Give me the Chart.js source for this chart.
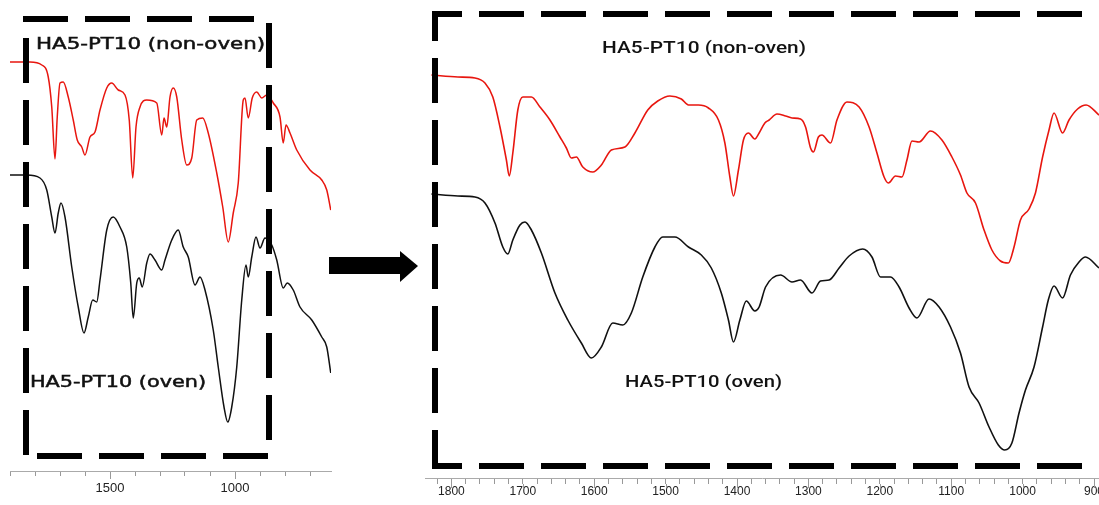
<!DOCTYPE html>
<html>
<head>
<meta charset="utf-8">
<script src="https://cdn.jsdelivr.net/npm/chart.js@4.4.1/dist/chart.umd.min.js"></script>
<style>
  body { margin: 0; background: #fff; width: 1099px; height: 505px; overflow: hidden; position: relative; }
  canvas { position: absolute; top: 0; }
  #leftChart { left: 0; }
  #rightChart { left: 425px; }
</style>
</head>
<body>
<canvas id="leftChart" width="425" height="505"></canvas>
<canvas id="rightChart" width="674" height="505"></canvas>
<script>
// full spectra (left, 1900-616 cm-1), arbitrary transmittance units
var leftRedWn = [1900, 1820, 1773, 1747, 1733, 1720, 1711, 1700, 1687, 1667, 1647, 1631, 1613, 1600, 1580, 1560, 1540, 1513, 1493, 1467, 1440, 1423, 1409, 1396, 1380, 1353, 1313, 1293, 1284, 1273, 1260, 1247, 1233, 1213, 1193, 1173, 1153, 1129, 1107, 1073, 1049, 1027, 1007, 987, 967, 960, 947, 931, 913, 893, 873, 847, 820, 807, 796, 780, 753, 700, 653, 633, 617];
var leftRedT = [409, 409, 406, 394, 364, 312, 354, 388, 389, 374, 351, 331, 324, 316, 334, 339, 361, 383, 388, 381, 376, 351, 293, 344, 364, 371, 368, 336, 353, 344, 374, 383, 374, 331, 306, 313, 351, 353, 338, 298, 264, 229, 258, 288, 371, 373, 353, 373, 379, 373, 376, 368, 354, 328, 346, 338, 321, 301, 291, 281, 261];
var leftBlackWn = [1900, 1833, 1780, 1753, 1733, 1720, 1707, 1696, 1680, 1653, 1627, 1604, 1587, 1569, 1553, 1540, 1513, 1487, 1460, 1433, 1417, 1407, 1393, 1383, 1371, 1353, 1340, 1320, 1293, 1280, 1253, 1227, 1207, 1187, 1160, 1140, 1120, 1087, 1067, 1044, 1029, 1013, 993, 973, 956, 947, 933, 916, 900, 880, 853, 833, 807, 791, 767, 740, 693, 653, 633, 617];
var leftBlackT = [296, 296, 293, 281, 254, 238, 258, 268, 254, 204, 164, 138, 154, 171, 169, 191, 241, 254, 244, 224, 188, 153, 188, 193, 184, 208, 217, 211, 201, 211, 231, 241, 224, 214, 186, 194, 181, 141, 104, 64, 49, 64, 104, 171, 206, 194, 214, 234, 223, 233, 226, 211, 183, 188, 181, 164, 151, 134, 124, 98];

// zoomed spectra (right, 1837-893 cm-1)
var rightRedWn = [1828, 1791, 1767, 1753, 1742, 1732, 1723, 1719, 1714, 1707, 1700, 1688, 1676, 1662, 1648, 1639, 1632, 1625, 1616, 1602, 1590, 1576, 1557, 1543, 1525, 1511, 1494, 1478, 1468, 1454, 1440, 1426, 1417, 1410, 1405, 1398, 1391, 1384, 1375, 1369, 1361, 1355, 1344, 1332, 1323, 1311, 1304, 1297, 1293, 1286, 1281, 1269, 1260, 1246, 1229, 1215, 1204, 1194, 1188, 1178, 1169, 1162, 1155, 1145, 1129, 1113, 1099, 1087, 1078, 1066, 1054, 1043, 1031, 1020, 1012, 1003, 991, 982, 972, 963, 956, 944, 935, 923, 911, 893];
var rightRedT = [403, 401, 400, 395, 381, 351, 318, 302, 325, 368, 381, 381, 371, 358, 341, 330, 320, 321, 311, 306, 313, 328, 331, 345, 368, 377, 382, 379, 373, 373, 370, 358, 335, 301, 282, 308, 338, 345, 339, 345, 355, 358, 364, 362, 360, 359, 351, 330, 326, 341, 343, 335, 358, 376, 371, 351, 325, 301, 295, 302, 301, 318, 337, 336, 347, 338, 321, 303, 285, 275, 248, 228, 217, 215, 231, 258, 269, 285, 321, 348, 365, 345, 358, 369, 373, 363];
var rightBlackWn = [1828, 1791, 1767, 1753, 1739, 1728, 1721, 1714, 1704, 1697, 1688, 1674, 1655, 1637, 1618, 1604, 1590, 1574, 1560, 1548, 1532, 1515, 1504, 1487, 1468, 1450, 1436, 1422, 1412, 1405, 1396, 1387, 1375, 1369, 1360, 1339, 1323, 1311, 1295, 1283, 1271, 1257, 1243, 1224, 1211, 1199, 1185, 1173, 1159, 1148, 1131, 1117, 1101, 1087, 1075, 1061, 1047, 1034, 1025, 1015, 1005, 996, 984, 972, 964, 956, 944, 933, 921, 912, 893];
var rightBlackT = [284, 282, 281, 275, 255, 231, 224, 238, 253, 256, 248, 225, 185, 158, 135, 120, 131, 155, 153, 165, 201, 231, 241, 241, 231, 223, 210, 185, 158, 136, 158, 177, 167, 171, 191, 203, 196, 198, 185, 197, 198, 210, 222, 229, 221, 201, 201, 191, 170, 160, 179, 171, 151, 125, 91, 75, 51, 33, 28, 35, 65, 88, 111, 151, 178, 192, 180, 203, 216, 221, 210];

var leftTickLabels = [1500, 1000];
var rightTickLabels = [1800, 1700, 1600, 1500, 1400, 1300, 1200, 1100, 1000, 900];
var seriesNames = ['HA5-PT10 (non-oven)', 'HA5-PT10 (oven)'];

function pts(wn, t) {
    return wn.map(function (w, i) { return { x: w, y: t[i] }; });
}

// text squeezed/stretched to the width it has in the picture
function wideText(ctx, text, x, y, w, font, color, bold) {
    ctx.save();
    ctx.font = font;
    var m = ctx.measureText(text).width;
    ctx.translate(x, y);
    ctx.scale(w / m, 1);
    ctx.fillStyle = color;
    ctx.textBaseline = 'middle';
    ctx.fillText(text, 0, 0);
    if (bold) {
        ctx.strokeStyle = color;
        ctx.lineWidth = bold;
        ctx.strokeText(text, 0, 0);
    }
    ctx.restore();
}

function dashed(ctx, x1, y1, x2, y2, w, offset) {
    ctx.save();
    ctx.strokeStyle = '#000';
    ctx.lineWidth = w;
    ctx.setLineDash([45, 17]);
    ctx.lineDashOffset = offset || 0;
    ctx.beginPath();
    ctx.moveTo(x1, y1);
    ctx.lineTo(x2, y2);
    ctx.stroke();
    ctx.restore();
}

function majorTicks(ctx, scale, values, from, to) {
    ctx.save();
    ctx.strokeStyle = '#999';
    ctx.lineWidth = 1;
    values.forEach(function (v) {
        var x = Math.round(scale.getPixelForValue(v)) + 0.5;
        ctx.beginPath();
        ctx.moveTo(x, scale.top + from);
        ctx.lineTo(x, scale.top + to);
        ctx.stroke();
    });
    ctx.restore();
}

var leftDecor = {
    id: 'leftDecor',
    afterDraw: function (chart) {
        var ctx = chart.ctx;
        majorTicks(ctx, chart.scales.x, leftTickLabels, 5, 8);
        dashed(ctx, 23, 19, 256, 19, 6);
        dashed(ctx, 26, 38, 26, 458, 6);
        dashed(ctx, 37, 456, 269, 456, 6);
        dashed(ctx, 269, 23, 269, 441, 6);
        wideText(ctx, seriesNames[0], 36, 45, 229, '16px "DejaVu Sans"', '#111', 0.5);
        wideText(ctx, seriesNames[1], 30, 383, 176, '16px "DejaVu Sans"', '#111', 0.5);
        // arrow
        ctx.save();
        ctx.fillStyle = '#000';
        ctx.fillRect(329, 257, 72, 17);
        ctx.beginPath();
        ctx.moveTo(400, 251);
        ctx.lineTo(418, 266);
        ctx.lineTo(400, 282);
        ctx.closePath();
        ctx.fill();
        ctx.restore();
    }
};

var rightDecor = {
    id: 'rightDecor',
    afterDraw: function (chart) {
        var ctx = chart.ctx;
        majorTicks(ctx, chart.scales.x, rightTickLabels, 6, 10);
        dashed(ctx, 7, 14, 700, 14, 6, 15);
        dashed(ctx, 10, 11, 10, 469, 6, 15);
        dashed(ctx, 7, 466, 700, 466, 6, 15);
        wideText(ctx, seriesNames[0], 177, 49, 204, '500 17px Roboto', '#111');
        wideText(ctx, seriesNames[1], 200, 383, 157, '500 17px Roboto', '#111');
    }
};

function xAxis(min, max, tickValues, labels, axisH, tickLen, pad, fontSize) {
    return {
        type: 'linear',
        reverse: true,
        min: min,
        max: max,
        afterBuildTicks: function (s) {
            s.ticks = tickValues.map(function (v) { return { value: v }; });
        },
        afterFit: function (s) {
            s.height = axisH;
            s.paddingLeft = 0;
            s.paddingRight = 0;
        },
        grid: { drawOnChartArea: false, tickLength: tickLen, color: '#999' },
        border: { color: '#aaa' },
        ticks: {
            autoSkip: false,
            maxRotation: 0,
            padding: pad,
            color: '#222',
            font: { family: '"Liberation Sans", Arial', size: fontSize },
            callback: function (v) { return labels.indexOf(v) >= 0 ? String(v) : ''; }
        }
    };
}

var leftTicks = [];
for (var v = 1900; v >= 700; v -= 100) leftTicks.push(v);
var rightTicks = [];
for (var v2 = 1840; v2 >= 900; v2 -= 20) rightTicks.push(v2);

new Chart(document.getElementById('leftChart').getContext('2d'), {
    type: 'line',
    data: {
        datasets: [
            { label: seriesNames[0], data: pts(leftRedWn, leftRedT), borderColor: '#e8160f', borderWidth: 1.5 },
            { label: seriesNames[1], data: pts(leftBlackWn, leftBlackT), borderColor: '#111', borderWidth: 1.5 }
        ]
    },
    options: {
        responsive: false,
        devicePixelRatio: 1,
        animation: false,
        layout: { padding: { left: 10, right: 94, top: 0, bottom: 0 } },
        elements: { point: { radius: 0 }, line: { cubicInterpolationMode: 'monotone' } },
        plugins: { legend: { display: false }, tooltip: { enabled: false } },
        scales: {
            x: xAxis(616, 1900, leftTicks, leftTickLabels, 34, 5, 5, 13),
            y: { display: false, min: 0, max: 471 }
        }
    },
    plugins: [leftDecor]
});

new Chart(document.getElementById('rightChart').getContext('2d'), {
    type: 'line',
    data: {
        datasets: [
            { label: seriesNames[0], data: pts(rightRedWn, rightRedT), borderColor: '#e8160f', borderWidth: 1.6 },
            { label: seriesNames[1], data: pts(rightBlackWn, rightBlackT), borderColor: '#111', borderWidth: 1.6 }
        ]
    },
    options: {
        responsive: false,
        devicePixelRatio: 1,
        animation: false,
        layout: { padding: 0 },
        elements: { point: { radius: 0 }, line: { cubicInterpolationMode: 'monotone' } },
        plugins: { legend: { display: false }, tooltip: { enabled: false } },
        scales: {
            x: xAxis(893, 1837, rightTicks, rightTickLabels, 27, 6, 0, 12),
            y: { display: false, min: 0, max: 478 }
        }
    },
    plugins: [rightDecor]
});
</script>
</body>
</html>
